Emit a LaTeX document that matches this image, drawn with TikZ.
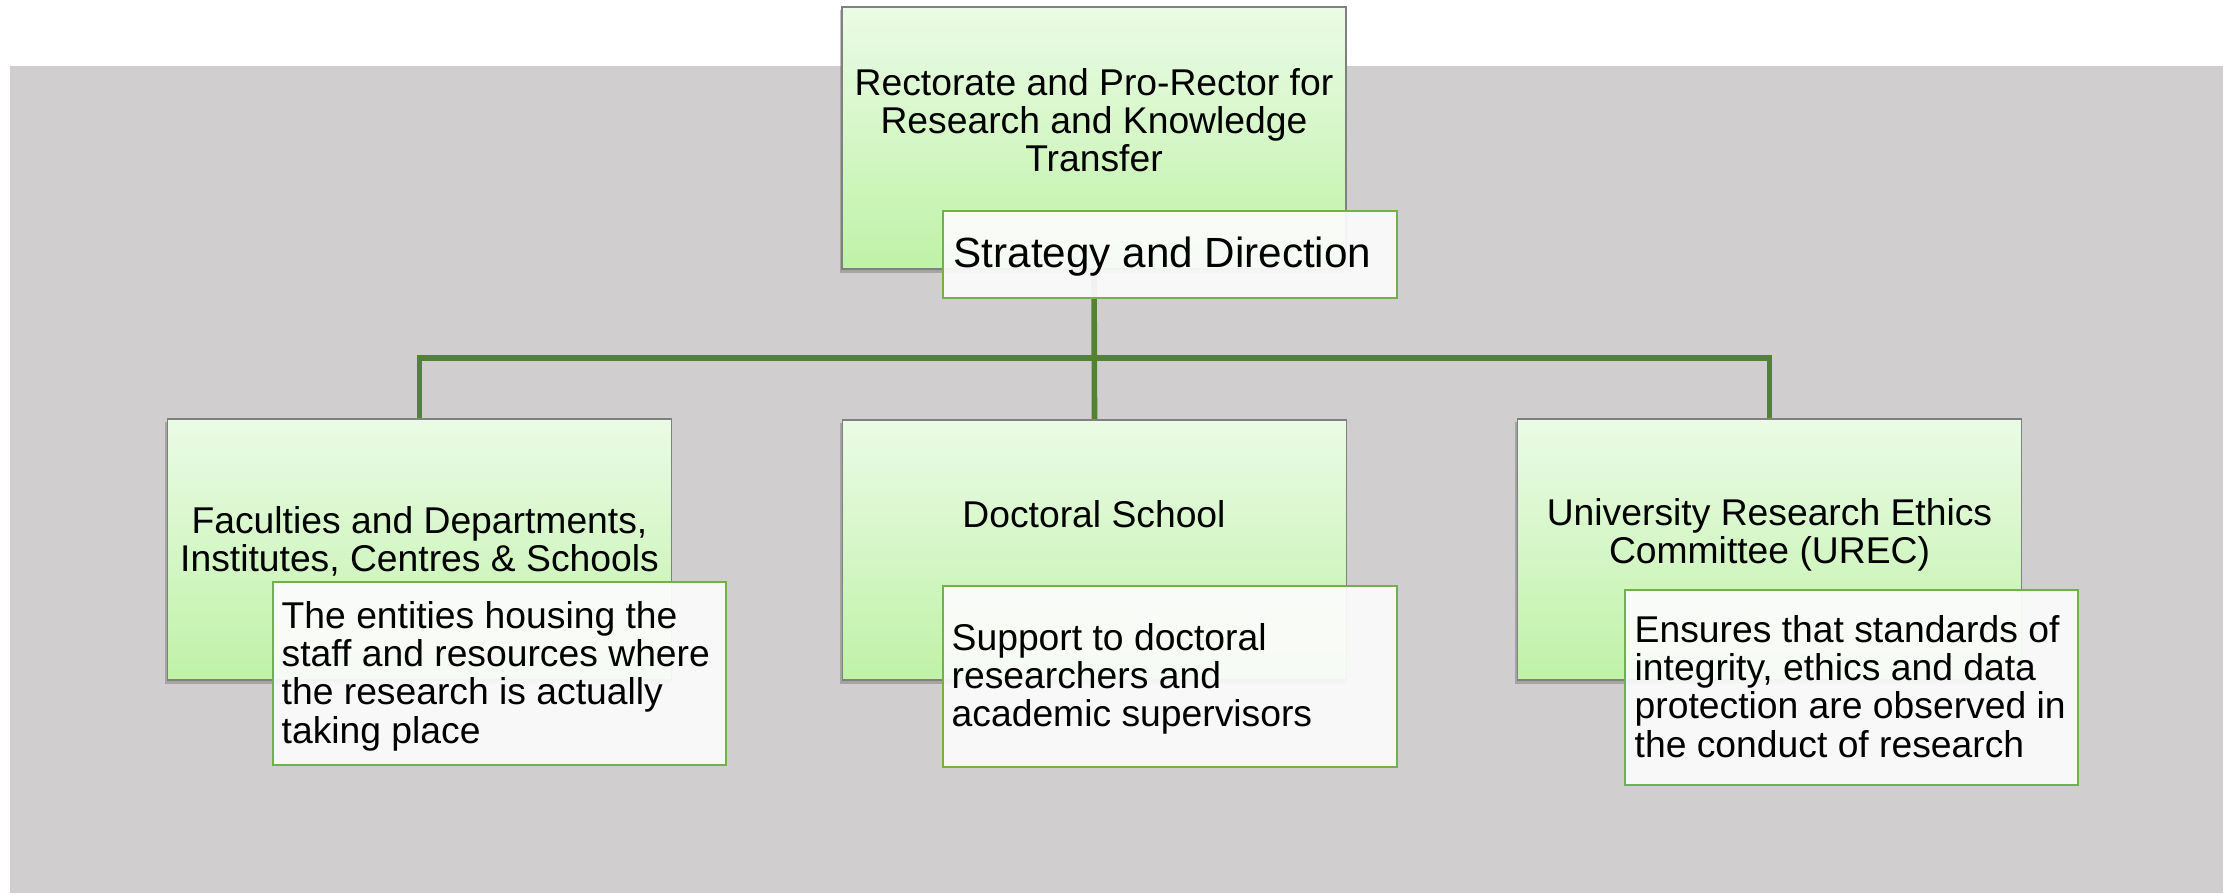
\documentclass[tikz,border=0pt]{standalone}
\usepackage{fontspec}
\setmainfont{Liberation Sans}
\usetikzlibrary{shadows,backgrounds}
\definecolor{bggray}{HTML}{D0CECF}
\definecolor{gtop}{HTML}{EBFBE6}
\definecolor{gbot}{HTML}{BFF2A7}
\definecolor{boxline}{HTML}{808080}
\definecolor{subline}{HTML}{72B04A}
\definecolor{subfill}{HTML}{FCFCFC}
\definecolor{conn}{HTML}{548235}
\newcommand\ctabl[1]{\begin{tabular}[t]{@{}c@{}}#1\end{tabular}}
\newcommand\ltabl[1]{\begin{tabular}[t]{@{}l@{}}#1\end{tabular}}
\begin{document}
\begin{tikzpicture}[x=0.01cm,y=-0.01cm,
  greenbox/.style={draw=boxline, line width=0.4pt, top color=gtop, bottom color=gbot,
    minimum width=5.04cm, inner sep=0,
    drop shadow={shadow xshift=-0.02cm, shadow yshift=-0.035cm, opacity=0.4, fill=black!60}},
  subbox/.style={draw=subline, line width=0.7pt, fill=subfill, fill opacity=0.93, inner sep=0},
  txt/.style={inner sep=0, font=\fontsize{10.6}{10.75}\selectfont},
  connector/.style={draw=conn, line width=1.6pt}]
\useasboundingbox (0,0) rectangle (2223,893);
% green boxes
\node[greenbox, minimum height=2.62cm] (rect) at (1094,138) {};
\node[greenbox, minimum height=2.61cm] (fac) at (419.5,549.5) {};
\node[greenbox, minimum height=2.60cm] (doc) at (1094.5,550) {};
\node[greenbox, minimum height=2.61cm] (urec) at (1769.5,549.5) {};
% connectors and background
\begin{scope}[on background layer]
  \fill[bggray] (10,66) rectangle (2223,893);
  \coordinate (bus) at (1094,358);
  \draw[connector] (rect.south) -- (doc.north);
  \draw[connector] (fac.north) |- (bus) -| (urec.north);
\end{scope}
% sub boxes
\node[subbox, minimum width=4.54cm, minimum height=0.87cm] (strat) at (1170,254.5) {};
\node[subbox, minimum width=4.53cm, minimum height=1.83cm] (facsub) at (499.5,673.5) {};
\node[subbox, minimum width=4.54cm, minimum height=1.81cm] (docsub) at (1170,676.5) {};
\node[subbox, minimum width=4.53cm, minimum height=1.95cm] (urecsub) at (1851.5,687.5) {};
% texts
\node[txt, anchor=base] (trect) at (1094,95) {\ctabl{Rectorate and Pro-Rector for\\Research and Knowledge\\Transfer}};
\node[txt, anchor=base west, font=\fontsize{12}{13}\selectfont] (tstrat) at (953,267) {Strategy and Direction};
\node[txt, anchor=base] (tfac) at (419.5,533) {\ctabl{Faculties and Departments,\\Institutes, Centres \& Schools}};
\node[txt, anchor=base] (tdoc) at (1094,527) {Doctoral School};
\node[txt, anchor=base] (turec) at (1769.5,525) {\ctabl{University Research Ethics\\Committee (UREC)}};
\node[txt, anchor=base west] (tfacsub) at (281,628) {\ltabl{The entities housing the\\staff and resources where\\the research is actually\\taking place}};
\node[txt, anchor=base west] (tdocsub) at (951,650) {\ltabl{Support to doctoral\\researchers and\\academic supervisors}};
\node[txt, anchor=base west] (turecsub) at (1634,642) {\ltabl{Ensures that standards of\\integrity, ethics and data\\protection are observed in\\the conduct of research}};
\end{tikzpicture}
\end{document}
